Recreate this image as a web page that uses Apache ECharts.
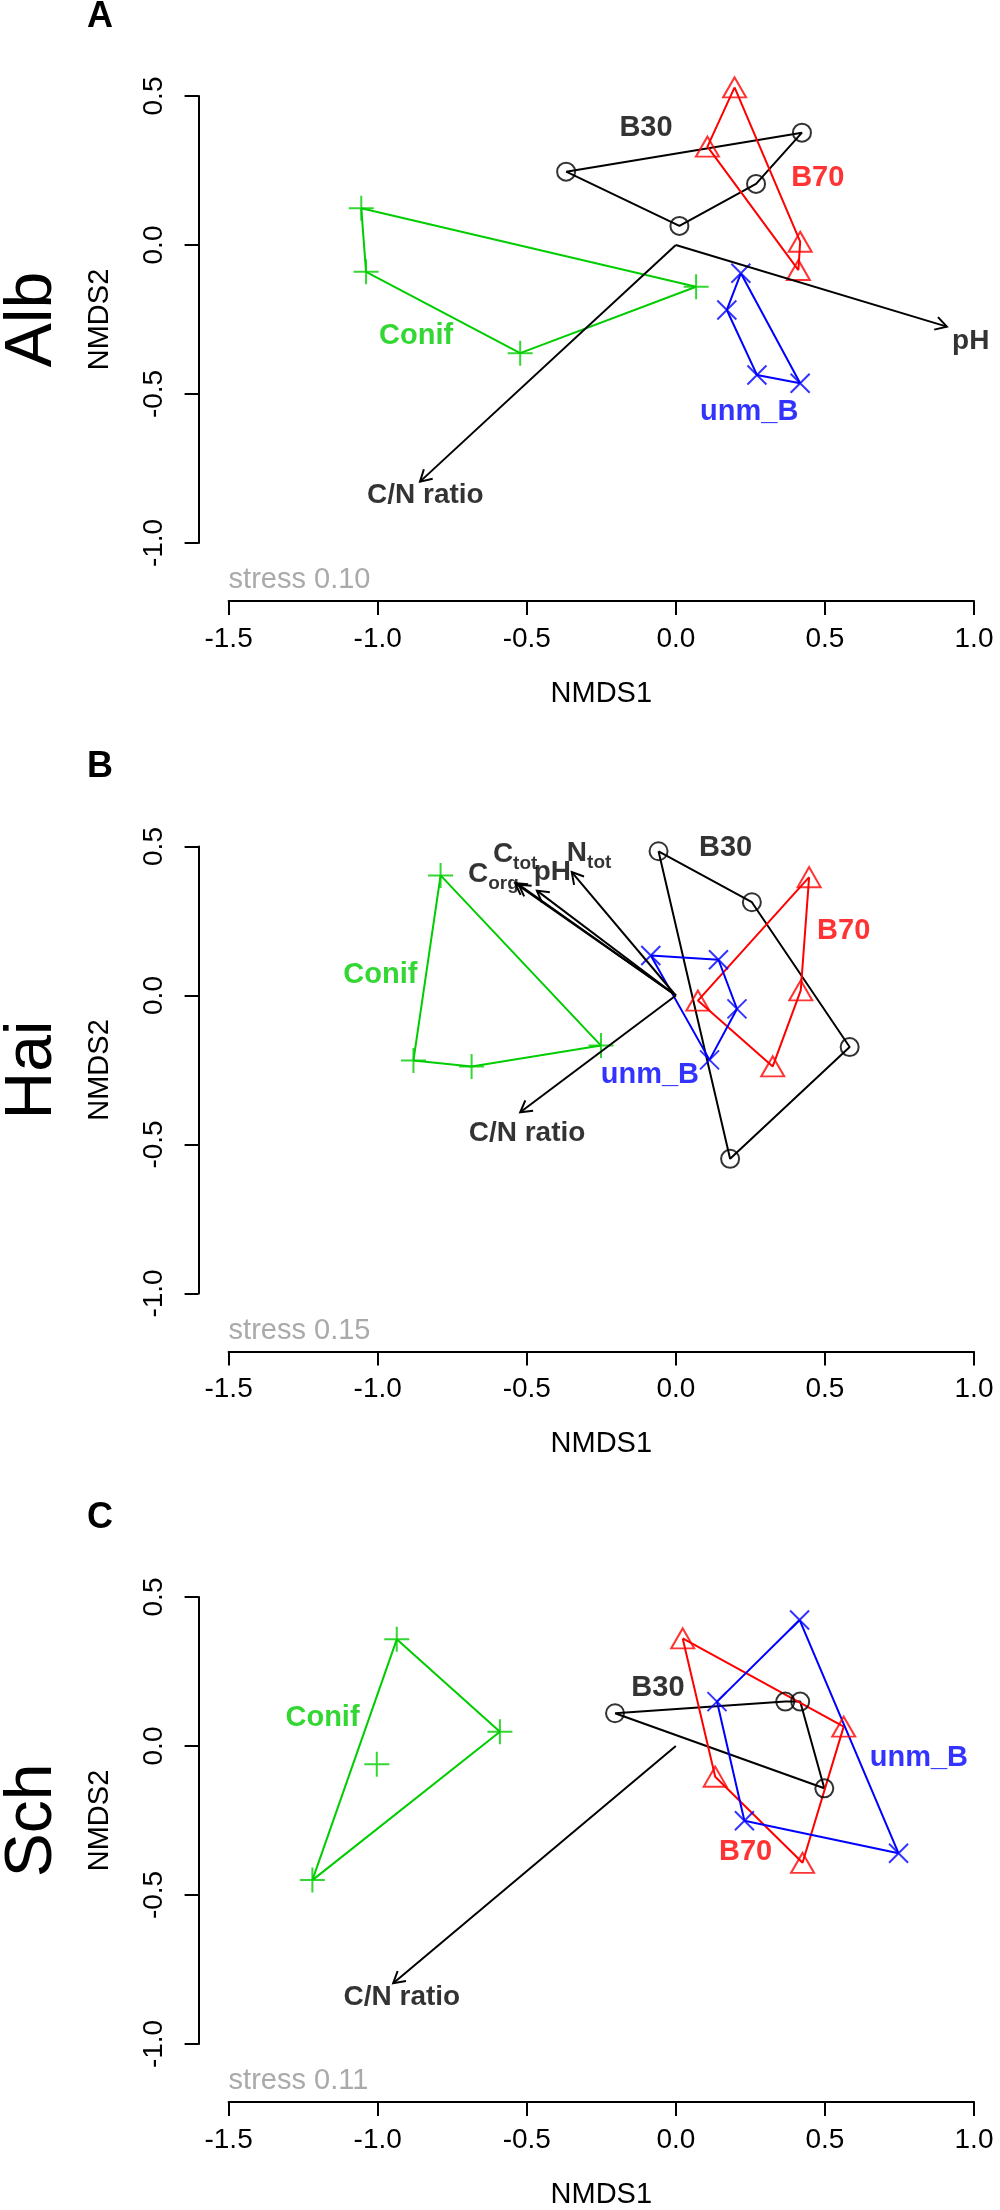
<!DOCTYPE html>
<html><head><meta charset="utf-8">
<script src="https://cdn.jsdelivr.net/npm/echarts@6/dist/echarts.min.js"></script>
<style>html,body{margin:0;padding:0;background:#fff}#c{width:1000px;height:2210px}</style>
</head><body><div id="c"></div>
<script>
// ---------------- data ----------------
const sites = ['Alb', 'Hai', 'Sch'];
const panelLetters = ['A', 'B', 'C'];
const stressValues = ['0.10', '0.15', '0.11'];
const groupNames = ['Conif', 'B30', 'B70', 'unm_B'];

// Alb (panel A)
const albConif = [[-1.055, 0.123], [0.068, -0.140], [-0.522, -0.363], [-1.039, -0.090]];
const albB30   = [[-0.368, 0.246], [0.423, 0.377], [0.269, 0.205], [0.012, 0.064]];
const albB70   = [[0.197, 0.529], [0.417, 0.011], [0.411, -0.084], [0.106, 0.330]];
const albUnmB  = [[0.218, -0.095], [0.171, -0.218], [0.272, -0.436], [0.417, -0.464]];
const albHulls = [[0, 1, 2, 3], [0, 1, 2, 3], [0, 1, 2, 3], [0, 1, 2, 3]];
const albVectors = [{ name: 'pH', x: 0.909, y: -0.274 }, { name: 'C/N ratio', x: -0.858, y: -0.794 }];
const albVectorLabels = [{ name: 'pH', x: 0.989, y: -0.327 }, { name: 'C/N ratio', x: -0.840, y: -0.842 }];
const albGroupLabels = [[-0.871, -0.305], [-0.100, 0.393], [0.476, 0.225], [0.246, -0.560]];

// Hai (panel B)
const haiConif = [[-0.789, 0.403], [-0.880, -0.218], [-0.685, -0.238], [-0.251, -0.168]];
const haiB30   = [[-0.058, 0.484], [0.255, 0.313], [0.583, -0.173], [0.182, -0.548]];
const haiB70   = [[0.447, 0.397], [0.419, 0.017], [0.325, -0.238], [0.074, -0.017]];
const haiUnmB  = [[-0.084, 0.134], [0.143, 0.120], [0.205, -0.045], [0.113, -0.216]];
const haiHulls = [[0, 1, 2, 3], [0, 1, 2, 3], [0, 1, 2, 3], [0, 1, 2, 3]];
const haiVectors = [
  { name: 'C_org', x: -0.539, y: 0.377 }, { name: 'C_tot', x: -0.527, y: 0.372 },
  { name: 'pH', x: -0.466, y: 0.352 }, { name: 'N_tot', x: -0.349, y: 0.414 },
  { name: 'C/N ratio', x: -0.522, y: -0.392 }];
const haiVectorLabels = [
  { name: 'C_org', x: -0.612, y: 0.403 }, { name: 'C_tot', x: -0.539, y: 0.470 },
  { name: 'pH', x: -0.414, y: 0.410 }, { name: 'N_tot', x: -0.291, y: 0.473 },
  { name: 'C/N ratio', x: -0.499, y: -0.466 }];
const haiGroupLabels = [[-0.991, 0.070], [0.167, 0.495], [0.563, 0.216], [-0.087, -0.268]];

// Sch (panel C)
const schConif = [[-0.936, 0.358], [-0.590, 0.048], [-1.219, -0.450], [-1.003, -0.061]];
const schB30   = [[-0.204, 0.110], [0.367, 0.149], [0.417, 0.149], [0.498, -0.142]];
const schB70   = [[0.023, 0.361], [0.563, 0.065], [0.425, -0.392], [0.132, -0.103]];
const schUnmB  = [[0.415, 0.423], [0.747, -0.360], [0.230, -0.251], [0.138, 0.149]];
const schHulls = [[0, 1, 2], [0, 1, 2, 3], [0, 1, 2, 3], [0, 1, 2, 3]];
const schVectors = [{ name: 'C/N ratio', x: -0.948, y: -0.796 }];
const schVectorLabels = [{ name: 'C/N ratio', x: -0.919, y: -0.846 }];
const schGroupLabels = [[-1.185, 0.094], [-0.060, 0.195], [0.234, -0.356], [0.815, -0.040]];

// ---------------- styles / layout ----------------
const FONT = "'Liberation Sans', Arial, Helvetica, sans-serif";
const groupColors = ['#00cd00', '#000000', '#ff0000', '#0000ff'];
const groupSymbols = ['path://M0,-1L0,1M-1,0L1,0', 'circle', 'triangle', 'path://M-1,-1L1,1M-1,1L1,-1'];
const groupSymbolSizes = [25, 18, [23, 20], 19];
const GRID_LEFT = 228.6, GRID_W = 745.4, GRID_TOP0 = 96, GRID_H = 447, STEP = 750.5;

const panels = [
  { groups: [albConif, albB30, albB70, albUnmB], hulls: albHulls, vectors: albVectors, vlabels: albVectorLabels, glabels: albGroupLabels },
  { groups: [haiConif, haiB30, haiB70, haiUnmB], hulls: haiHulls, vectors: haiVectors, vlabels: haiVectorLabels, glabels: haiGroupLabels },
  { groups: [schConif, schB30, schB70, schUnmB], hulls: schHulls, vectors: schVectors, vlabels: schVectorLabels, glabels: schGroupLabels }
];

const grids = [], xAxes = [], yAxes = [], series = [], graphics = [];
const fmt = v => v.toFixed(1);

function richName(n) {
  if (n.indexOf('_') > 0) {
    const p = n.split('_');
    return '{m|' + p[0] + '}{s|' + p[1] + '}';
  }
  return '{m|' + n + '}';
}

panels.forEach((p, i) => {
  const top = GRID_TOP0 + STEP * i;
  grids.push({ left: GRID_LEFT, top: top, width: GRID_W, height: GRID_H, containLabel: false });
  xAxes.push({
    gridIndex: i, type: 'value', min: -1.5, max: 1.0, interval: 0.5, offset: 58,
    axisLine: { show: true, onZero: false, lineStyle: { color: '#000', width: 2 } },
    axisTick: { show: true, length: 14, lineStyle: { color: '#000', width: 2 } },
    axisLabel: { formatter: fmt, fontSize: 28, color: '#000', margin: 24, fontFamily: FONT, showMinLabel: true, showMaxLabel: true },
    splitLine: { show: false },
    name: 'NMDS1', nameLocation: 'middle', nameGap: 78,
    nameTextStyle: { fontSize: 29, color: '#000', fontFamily: FONT }
  });
  yAxes.push({
    gridIndex: i, type: 'value', min: -1.0, max: 0.5, interval: 0.5, offset: 30,
    axisLine: { show: true, onZero: false, lineStyle: { color: '#000', width: 2 } },
    axisTick: { show: true, length: 14, lineStyle: { color: '#000', width: 2 } },
    axisLabel: { formatter: fmt, fontSize: 28, color: '#000', margin: 30, rotate: 90, fontFamily: FONT, showMinLabel: true, showMaxLabel: true },
    splitLine: { show: false },
    name: 'NMDS2', nameLocation: 'middle', nameGap: 84, nameRotate: 90,
    nameTextStyle: { fontSize: 29, color: '#000', fontFamily: FONT }
  });

  // hulls and points
  p.groups.forEach((pts, g) => {
    const hull = p.hulls[g].map(k => pts[k]);
    hull.push(pts[p.hulls[g][0]]);
    series.push({
      type: 'line', xAxisIndex: i, yAxisIndex: i, data: hull, showSymbol: false, symbol: 'none',
      clip: false, silent: true, lineStyle: { color: groupColors[g], width: 2 }, z: 2
    });
    series.push({
      type: 'scatter', xAxisIndex: i, yAxisIndex: i, data: pts, symbol: groupSymbols[g],
      symbolSize: groupSymbolSizes[g], clip: false, silent: true,
      itemStyle: { color: 'rgba(0,0,0,0)', borderColor: groupColors[g], borderWidth: 2 }, z: 3
    });
  });

  // environmental vectors (arrows)
  series.push({
    type: 'custom', xAxisIndex: i, yAxisIndex: i, clip: false, silent: true, z: 4,
    data: p.vectors.map(v => [v.x, v.y]),
    renderItem: (params, api) => {
      const o = api.coord([0, 0]);
      const t = api.coord([api.value(0), api.value(1)]);
      const ang = Math.atan2(t[1] - o[1], t[0] - o[0]);
      const L = 13, a = Math.PI / 6;
      const h1 = [t[0] - L * Math.cos(ang - a), t[1] - L * Math.sin(ang - a)];
      const h2 = [t[0] - L * Math.cos(ang + a), t[1] - L * Math.sin(ang + a)];
      return {
        type: 'group', children: [
          { type: 'line', shape: { x1: o[0], y1: o[1], x2: t[0], y2: t[1] }, style: { stroke: '#000', lineWidth: 2 } },
          { type: 'polyline', shape: { points: [h1, t, h2] }, style: { stroke: '#000', lineWidth: 2, fill: null } }
        ]
      };
    }
  });

  // vector labels
  series.push({
    type: 'scatter', xAxisIndex: i, yAxisIndex: i, clip: false, silent: true, z: 5,
    symbolSize: 1, itemStyle: { color: 'rgba(0,0,0,0)' },
    data: p.vlabels.map(v => ({ name: v.name, value: [v.x, v.y] })),
    label: {
      show: true, position: 'inside', formatter: prm => richName(prm.name),
      color: '#000', textBorderWidth: 0,
      rich: {
        m: { fontSize: 28, fontWeight: 'bold', color: '#000', fontFamily: FONT, lineHeight: 30, verticalAlign: 'top', textBorderWidth: 0 },
        s: { fontSize: 19, fontWeight: 'bold', color: '#000', fontFamily: FONT, lineHeight: 19, padding: [14, 0, 0, 0], verticalAlign: 'top', textBorderWidth: 0 }
      }
    }
  });

  // group labels
  series.push({
    type: 'scatter', xAxisIndex: i, yAxisIndex: i, clip: false, silent: true, z: 5,
    symbolSize: 1, itemStyle: { color: 'rgba(0,0,0,0)' },
    data: p.glabels.map((v, g) => ({ name: groupNames[g], value: v, label: { color: groupColors[g] } })),
    label: { show: true, position: 'inside', formatter: '{b}', fontSize: 29, fontWeight: 'bold', fontFamily: FONT, textBorderWidth: 0 }
  });

  graphics.push({
    type: 'text', x: 100, y: 17 + STEP * i, silent: true,
    style: { text: panelLetters[i], fontSize: 36, fontWeight: 'bold', fontFamily: FONT, fill: '#000', align: 'center', verticalAlign: 'middle' }
  });
  graphics.push({
    type: 'text', x: 33, y: top + GRID_H / 2, rotation: Math.PI / 2, silent: true,
    style: { text: sites[i], fontSize: 66, fontFamily: FONT, fill: '#000', align: 'center', verticalAlign: 'middle' }
  });
  graphics.push({
    type: 'text', x: GRID_LEFT, y: top + GRID_H + 37, silent: true,
    style: { text: 'stress ' + stressValues[i], fontSize: 29, fontFamily: FONT, fill: '#aaaaaa', align: 'left', verticalAlign: 'middle' }
  });
});

const chart = echarts.init(document.getElementById('c'), null, { renderer: 'canvas' });
chart.setOption({
  animation: false,
  backgroundColor: '#ffffff',
  textStyle: { fontFamily: FONT },
  grid: grids, xAxis: xAxes, yAxis: yAxes, series: series, graphic: graphics
});
</script></body></html>
